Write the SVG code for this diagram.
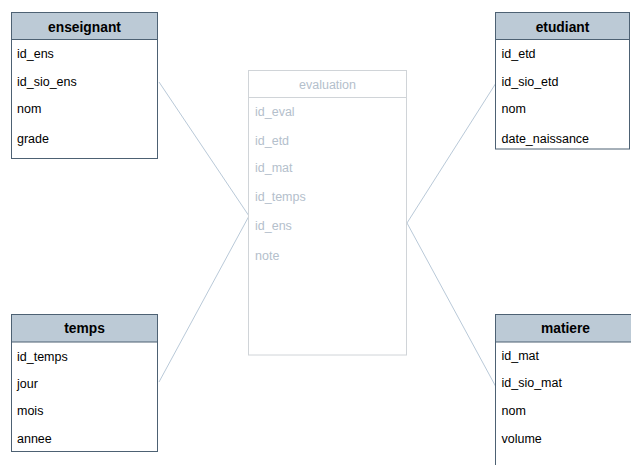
<svg xmlns="http://www.w3.org/2000/svg" width="631" height="465" viewBox="0 0 631 465">
<style>
.box{fill:#ffffff;stroke:#4d6173;stroke-width:1}
.hdr{fill:#bccad6;stroke:#4d6173;stroke-width:1}
.t{font-family:"Liberation Sans",Arial,sans-serif;font-size:12.5px;fill:#000000}
.h{font-family:"Liberation Sans",Arial,sans-serif;font-size:13.8px;font-weight:bold;fill:#000000;text-anchor:middle}
.ebox{fill:#ffffff;stroke:#d0d4d8;stroke-width:1}
.et{font-family:"Liberation Sans",Arial,sans-serif;font-size:12.5px;fill:#b4c0cc}
.eh{font-family:"Liberation Sans",Arial,sans-serif;font-size:12.5px;fill:#b4c0cc;text-anchor:middle}
.c{stroke:#b9c9d8;stroke-width:1;fill:none}
</style>
<rect width="631" height="465" fill="#ffffff"/>
<g id="connectors">
<line class="c" x1="159" y1="82" x2="249" y2="216"/>
<line class="c" x1="159" y1="382" x2="249" y2="216"/>
<line class="c" x1="407" y1="223" x2="496" y2="83"/>
<line class="c" x1="407" y1="223" x2="496" y2="387"/>
</g>
<g id="evaluation">
<rect class="ebox" x="248.5" y="70.5" width="158" height="284.5"/>
<line x1="248.5" y1="97.5" x2="406.5" y2="97.5" stroke="#d0d4d8"/>
<text class="eh" x="327.5" y="88.5">evaluation</text>
<text class="et" x="255" y="116">id_eval</text>
<text class="et" x="255" y="144.5">id_etd</text>
<text class="et" x="255" y="171.5">id_mat</text>
<text class="et" x="255" y="201">id_temps</text>
<text class="et" x="255" y="230">id_ens</text>
<text class="et" x="255" y="260">note</text>
</g>
<g id="enseignant">
<rect class="box" x="11.5" y="12.5" width="146" height="146"/>
<rect class="hdr" x="11.5" y="12.5" width="146" height="27"/>
<text class="h" x="84.5" y="31.5">enseignant</text>
<text class="t" x="17" y="57.5">id_ens</text>
<text class="t" x="17" y="86">id_sio_ens</text>
<text class="t" x="17" y="113">nom</text>
<text class="t" x="17" y="143">grade</text>
</g>
<g id="etudiant">
<rect class="box" x="495.5" y="12.5" width="134" height="136.5"/>
<rect class="hdr" x="495.5" y="12.5" width="134" height="27"/>
<text class="h" x="562.5" y="31.5">etudiant</text>
<text class="t" x="501.5" y="57.5">id_etd</text>
<text class="t" x="501.5" y="86">id_sio_etd</text>
<text class="t" x="501.5" y="113">nom</text>
<text class="t" x="501.5" y="142.5">date_naissance</text>
</g>
<g id="temps">
<rect class="box" x="11.5" y="314.5" width="146" height="137"/>
<rect class="hdr" x="11.5" y="314.5" width="146" height="27.5"/>
<text class="h" x="84.5" y="333">temps</text>
<text class="t" x="17" y="360.5">id_temps</text>
<text class="t" x="17" y="387.5">jour</text>
<text class="t" x="17" y="414.5">mois</text>
<text class="t" x="17" y="442.5">annee</text>
</g>
<g id="matiere">
<rect class="box" x="495.5" y="314.5" width="140" height="160"/>
<rect class="hdr" x="495.5" y="314.5" width="140" height="27.5"/>
<text class="h" x="565.5" y="333">matiere</text>
<text class="t" x="501.5" y="359.5">id_mat</text>
<text class="t" x="501.5" y="387">id_sio_mat</text>
<text class="t" x="501.5" y="414.5">nom</text>
<text class="t" x="501.5" y="442.5">volume</text>
</g>
</svg>
